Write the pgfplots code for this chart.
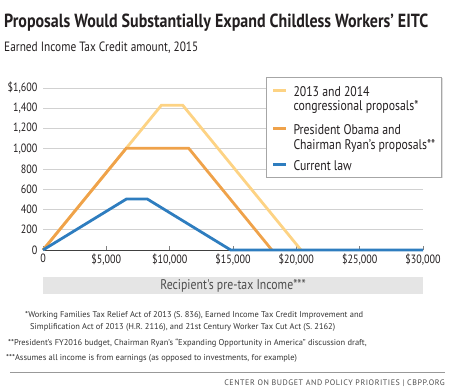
\documentclass[border=0pt]{standalone}
\usepackage{fontspec}
\setmainfont{PT Sans}
\newfontfamily\cond[FakeStretch=0.84]{PT Sans}
\newfontfamily\tracked[LetterSpace=7]{PT Sans}
\usepackage{pgfplots}
\pgfplotsset{compat=1.18}
\usetikzlibrary{shadows}
\definecolor{cyel}{HTML}{FDD384}
\definecolor{corg}{HTML}{EFA24A}
\definecolor{cblu}{HTML}{2E7DBF}
\definecolor{ctxt}{HTML}{231F20}
\begin{document}
\begin{tikzpicture}[x=1pt,y=1pt]
\path[use as bounding box] (0,0) rectangle (450,-391);
\node[anchor=base west,inner sep=0,text=ctxt] at (4,-27) {\cond\bfseries\fontsize{19}{22}\selectfont Proposals Would Substantially Expand Childless Workers’ EITC};
\node[anchor=base west,inner sep=0,text=ctxt] at (4,-51) {\cond\fontsize{13.5}{15}\selectfont Earned Income Tax Credit amount, 2015};
\begin{axis}[
  at={(43pt,-250pt)}, anchor=origin,
  scale only axis, width=380pt, height=162pt,
  xmin=0, xmax=30000, ymin=0, ymax=1600,
  axis x line*=bottom, axis y line*=left,
  x axis line style={draw=black!75, line width=0.8pt, -},
  y axis line style={draw=none},
  xtick={0,5000,10000,15000,20000,25000,30000},
  xticklabels={0,{\$5,000},{\$10,000},{\$15,000},{\$20,000},{\$25,000},{\$30,000}},
  ytick={0,200,400,600,800,1000,1200,1400,1600},
  yticklabels={0,200,400,600,800,{1,000},{1,200},{1,400},{\$1,600}},
  scaled ticks=false,
  xtick align=inside,
  major tick length=4pt,
  xtick style={draw=black!50, line width=0.5pt},
  ytick style={draw=none},
  ymajorgrids, grid style={draw=black!18, line width=0.8pt},
  ticklabel style={font=\cond\fontsize{12}{14}\selectfont, text=ctxt},
  yticklabel style={xshift=-2pt},
  clip=false,
]
\addplot[cyel, line width=2.8pt] coordinates {(0,0) (9350,1430) (11030,1430) (20370,0)};
\addplot[corg, line width=2.8pt] coordinates {(0,0) (6570,1005) (11500,1005) (18070,0)};
\addplot[cblu, line width=2.8pt] coordinates {(0,0) (6580,503) (8240,503) (14820,0) (30000,0)};
\end{axis}
% legend
\draw[black!35, line width=0.5pt, fill=white, drop shadow={shadow xshift=1pt, shadow yshift=-1pt, opacity=0.25}] (266.5,-77) rectangle (441.5,-177);
\draw[cyel, line width=2.8pt] (273,-90.7) -- (286,-90.7);
\draw[corg, line width=2.8pt] (273,-128.7) -- (286,-128.7);
\draw[cblu, line width=2.8pt] (273,-164.5) -- (286,-164.5);
\begin{scope}[every node/.style={anchor=base west,inner sep=0,text=ctxt,font=\cond\fontsize{14}{16}\selectfont}]
\node at (293.3,-96.5) {2013 and 2014};
\node at (293.3,-110.7) {congressional proposals*};
\node at (293.3,-134) {President Obama and};
\node at (293.3,-149) {Chairman Ryan’s proposals**};
\node at (293.3,-170) {Current law};
\end{scope}
\fill[black!10] (43,-277) rectangle (423,-294);
\node[text=black!70,inner sep=0] at (233,-285.5) {\cond\fontsize{14}{16}\selectfont Recipient's pre-tax Income***};
\begin{scope}[every node/.style={anchor=base west,inner sep=0,text=black!80,font=\fontsize{8.45}{10}\selectfont}]
\node at (25,-317) {*Working Families Tax Relief Act of 2013 (S. 836), Earned Income Tax Credit Improvement and};
\node at (30,-329) {Simplification Act of 2013 (H.R. 2116), and 21st Century Worker Tax Cut Act (S. 2162)};
\node at (8,-345) {**President’s FY2016 budget, Chairman Ryan’s “Expanding Opportunity in America” discussion draft,};
\node at (6,-360) {***Assumes all income is from earnings (as opposed to investments, for example)};
\end{scope}
\draw[black!40, line width=0.6pt] (10,-372.5) -- (445,-372.5);
\node[anchor=base east,inner sep=0,text=black!70] at (445,-385.7) {\tracked\fontsize{8}{9}\selectfont CENTER ON BUDGET AND POLICY PRIORITIES | CBPP.ORG};
\end{tikzpicture}
\end{document}
